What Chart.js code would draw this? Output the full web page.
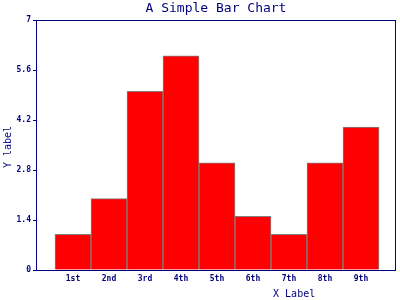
<!DOCTYPE html>
<html><head><meta charset="utf-8">
<script src="https://cdn.jsdelivr.net/npm/chart.js@4"></script>
<style>html,body{margin:0;padding:0;background:#fff;}canvas{display:block;}</style>
</head><body>
<canvas id="c" width="400" height="300"></canvas>
<script>
const categories = ['1st','2nd','3rd','4th','5th','6th','7th','8th','9th'];
const values = [1, 2, 5, 6, 3, 1.5, 1, 3, 4];
const yTickValues = [0, 1.4, 2.8, 4.2, 5.6, 7];
const yTickLabels = ['0','1.4','2.8','4.2','5.6','7'];
const titleText = 'A Simple Bar Chart';
const xLabelText = 'X Label';
const yLabelText = 'Y label';

const NAVY = '#000080';
const MONO = '"DejaVu Sans Mono", "Liberation Mono", monospace';

const textPlugin = {
  id: 'texts',
  afterDraw(chart) {
    const ctx = chart.ctx, a = chart.chartArea;
    ctx.save();
    ctx.strokeStyle = NAVY;
    ctx.lineWidth = 1;
    ctx.strokeRect(Math.round(a.left) + 0.5, Math.round(a.top) + 0.5,
                   Math.round(a.right - a.left) - 1, Math.round(a.bottom - a.top));
    ctx.fillStyle = NAVY;
    ctx.textAlign = 'center';
    ctx.textBaseline = 'middle';
    ctx.font = '13px ' + MONO;
    ctx.fillText(titleText, (a.left + a.right) / 2, 9);
    ctx.font = '10px ' + MONO;
    ctx.fillText(xLabelText, a.left + (a.right - a.left) * 0.717, 294);
    ctx.translate(8, (a.top + a.bottom) / 2 + 2);
    ctx.rotate(-Math.PI / 2);
    ctx.fillText(yLabelText, 0, 0);
    ctx.restore();
  }
};

new Chart(document.getElementById('c'), {
  type: 'bar',
  data: {
    datasets: [{
      data: values.map((v, i) => ({x: i + 1, y: v})),
      backgroundColor: '#ff0000',
      borderColor: '#808080',
      borderWidth: 1,
      barPercentage: 1,
      categoryPercentage: 1
    }]
  },
  options: {
    responsive: false,
    animation: false,
    devicePixelRatio: 1,
    layout: {padding: {left: 0, right: 4, top: 20, bottom: 0}},
    plugins: {legend: {display: false}, title: {display: false}, tooltip: {enabled: false}},
    scales: {
      x: {
        type: 'linear',
        min: -1 / 36, max: 10 - 1 / 36,
        offset: false,
        grid: {display: true, drawOnChartArea: false, drawTicks: false},
        border: {display: false},
        afterBuildTicks(scale) { scale.ticks = categories.map((c, i) => ({value: i + 1})); },
        afterFit(scale) { scale.height = 30; },
        ticks: {
          autoSkip: false,
          maxRotation: 0,
          padding: 4,
          color: NAVY,
          font: {family: MONO, size: 8, weight: 'bold'},
          callback: (v) => categories[v - 1]
        }
      },
      y: {
        min: 0, max: 7,
        grid: {drawOnChartArea: false, drawTicks: true, tickLength: 3, color: NAVY},
        border: {display: false},
        afterBuildTicks(scale) { scale.ticks = yTickValues.map(v => ({value: v})); },
        afterFit(scale) { scale.width = 36; },
        ticks: {
          padding: 2,
          color: NAVY,
          font: {family: MONO, size: 8, weight: 'bold'},
          callback: (v, i) => yTickLabels[i]
        }
      }
    }
  },
  plugins: [textPlugin]
});
</script>
</body></html>
